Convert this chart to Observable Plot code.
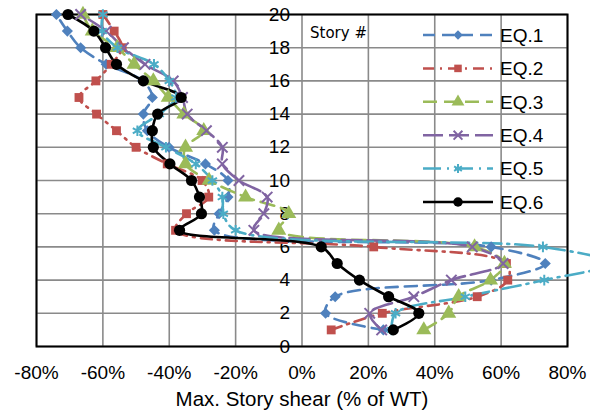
<!DOCTYPE html>
<html><head><meta charset="utf-8">
<script src="https://cdn.jsdelivr.net/npm/d3@7"></script>
<script src="https://cdn.jsdelivr.net/npm/@observablehq/plot@0.6"></script>
<style>
body{margin:0;background:#fff;}
#wrap{position:relative;width:590px;height:417px;font-family:"Liberation Sans",Arial,sans-serif;}
#legend{position:absolute;left:0;top:0;pointer-events:none;}
</style></head><body><div id="wrap"></div>
<script>
// ---- data ----
const stories = [1,2,3,4,5,6,7,8,9,10,11,12,13,14,15,16,17,18,19,20];
const seriesNames = ["EQ.1","EQ.2","EQ.3","EQ.4","EQ.5","EQ.6"];
const eq1 = [24.5, 7.1, 10, 57, 73.3, 57, -26.4, -25, -22.3, -22.3, -29.1, -40.1, -46.6, -47.8, -45.1, -48, -59, -66.7, -70.7, -74];
const eq2 = [8.8, 24.2, 52.8, 62, 61.6, 21.6, -38.1, -34.8, -28.1, -30.1, -40.6, -50, -55.9, -61.9, -67.2, -62.1, -57.5, -54.2, -56.6, -60];
const eq3 = [36.7, 44.2, 47.2, 56.8, 61, 52, -7, -4, -17, -28, -35.1, -35.1, -29.6, -35.6, -40.3, -44.8, -50.6, -55.7, -63.2, -66];
const eq4 = [24, 20.4, 33.7, 45, 60.6, 51.3, -14.5, -11.5, -10.5, -19, -24, -24, -28.8, -34.6, -36, -38.8, -47.3, -53.8, -59, -66.7];
const eq5 = [27, 28.2, 49.2, 73, 93, 72.6, -20, -23.7, -24, -27, -32, -41, -49.6, -43, -38, -40, -44.6, -55.6, -60.2, -60];
const eq6 = [27.5, 35.2, 26.1, 17.3, 10.6, 5.8, -36.9, -30.3, -30.9, -33.3, -39.8, -44.8, -45.1, -43.5, -36.4, -47.8, -55.9, -59.2, -62.7, -70.5];
const xTicks = [-80,-60,-40,-20,0,20,40,60,80];
const yTicks = [0,2,4,6,8,10,12,14,16,18,20];
const xTitle = "Max. Story shear (% of WT)";
const yTitle = "Story #";

// ---- styles ----
const colors  = ["#4F81BD","#C0504D","#9BBB59","#8064A2","#4BACC6","#000000"];
const dashes  = ["12,7","11,6,2,6","14,7","20,6","18,6,2,6",null];
const symbols = ["diamond2","square","triangle","times","asterisk","circle"];
const d3sym   = [d3.symbolDiamond2,d3.symbolSquare,d3.symbolTriangle,d3.symbolTimes,d3.symbolAsterisk,d3.symbolCircle];
const filled  = [true,true,true,false,false,true];
const radii   = [5,5,5.6,4.8,5,5.6];

const allSeries = [eq1,eq2,eq3,eq4,eq5,eq6];
const tables = allSeries.map((vals,i)=>vals.map((v,j)=>({series:seriesNames[i],story:stories[j],value:v})));

const marks = [
  Plot.gridX(xTicks,{stroke:"#8a8a8a",strokeOpacity:1,strokeWidth:1.6}),
  Plot.gridY(yTicks,{stroke:"#8a8a8a",strokeOpacity:1,strokeWidth:1.6}),
  Plot.frame({stroke:"#000",strokeWidth:2}),
  Plot.text(yTicks,{x:()=>0,y:d=>d,text:d=>String(d),textAnchor:"end",dx:-12,fontSize:19}),
  Plot.text(xTicks,{x:d=>d,frameAnchor:"bottom",dy:32,text:d=>d+"%",fontSize:19}),
  Plot.text([xTitle],{frameAnchor:"bottom",dy:59,fontSize:20.5}),
  Plot.text([yTitle],{frameAnchor:"top",textAnchor:"start",dx:8,dy:13,fontSize:15,fontFamily:"DejaVu Sans"})
];
tables.forEach((t,i)=>{
  marks.push(Plot.line(t,{x:"value",y:"story",stroke:colors[i],strokeWidth:2.6,strokeDasharray:dashes[i],curve:"catmull-rom"}));
});
tables.forEach((t,i)=>{
  marks.push(Plot.dot(t,{x:"value",y:"story",symbol:()=>symbols[i],r:radii[i],
    fill: filled[i]?colors[i]:"none", stroke: filled[i]?"none":colors[i], strokeWidth: filled[i]?0:2}));
});

const chart = Plot.plot({
  width:590,height:417,
  marginLeft:36,marginRight:23,marginTop:14,marginBottom:71,
  x:{domain:[-80,80],axis:null},
  y:{domain:[0,20],axis:null},
  symbol:{type:"identity"},
  style:{fontFamily:"'Liberation Sans',Arial,sans-serif",fontSize:"18px",background:"white",overflow:"visible"},
  marks
});
const wrap = document.getElementById("wrap");
wrap.appendChild(chart);

// ---- legend (overlay) ----
const leg = d3.select(wrap).append("svg").attr("id","legend").attr("width",590).attr("height",417);
seriesNames.forEach((name,i)=>{
  const y = 35 + 33.4*i;
  leg.append("line").attr("x1",423).attr("x2",493).attr("y1",y).attr("y2",y)
    .attr("stroke",colors[i]).attr("stroke-width",2.5).attr("stroke-dasharray",dashes[i]);
  const r = radii[i]*0.85;
  leg.append("path").attr("d",d3.symbol(d3sym[i],Math.PI*r*r)())
    .attr("transform",`translate(458,${y})`)
    .attr("fill",filled[i]?colors[i]:"none").attr("stroke",filled[i]?"none":colors[i]).attr("stroke-width",2);
  leg.append("text").attr("x",500).attr("y",y).attr("dy","0.36em")
    .attr("font-family","'Liberation Sans',Arial,sans-serif").attr("font-size",19).text(name);
});
</script></body></html>
